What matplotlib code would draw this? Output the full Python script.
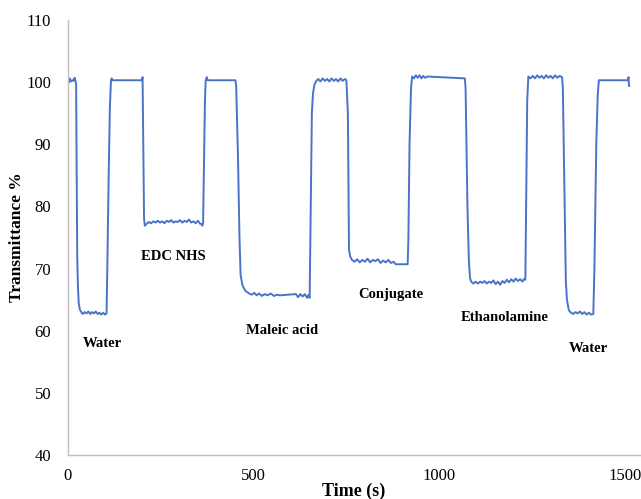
import matplotlib.pyplot as plt

# time (s) and transmittance (%)
time_s = [
    0, 3, 5, 8, 12, 15, 18, 20, 22, 24, 25, 27, 29, 32, 36,
    40, 45, 50, 55, 60, 65, 70, 75, 80, 85, 90, 95, 100, 104,
    106, 110, 113, 116, 118, 120, 199, 201, 203, 205, 207,
    212, 218, 224, 230, 236, 242, 248, 254, 260, 266, 272, 278, 284, 290,
    296, 302, 308, 314, 320, 326, 332, 338, 344, 350, 356, 360, 362, 364,
    366, 369, 371, 374, 376, 451, 453, 458, 462, 465, 470, 478, 488,
    495, 502, 508, 515, 522, 530, 538, 546, 555, 563, 571, 614, 620, 626,
    632, 638, 644, 648, 651, 654, 657, 660, 664, 669,
    674, 680, 686, 692, 698, 704, 710, 716, 722, 728, 734, 740, 746, 750,
    752, 754, 757, 760, 765,
    772, 779, 786, 793, 800, 807, 814, 821, 828, 835, 842, 849, 856, 863,
    870, 877, 883, 915,
    917, 920, 924, 927, 932, 937, 942, 947, 952, 957, 962, 969, 1069,
    1071, 1076, 1080, 1083, 1086,
    1092, 1098, 1104, 1110, 1116, 1122, 1128, 1134, 1140, 1146, 1152, 1158,
    1164, 1170, 1176, 1182, 1188, 1194, 1200, 1206, 1212, 1218, 1224, 1228, 1232,
    1234, 1237, 1240, 1246, 1252, 1258, 1264, 1270, 1276, 1282, 1288, 1294,
    1300, 1306, 1312, 1318, 1324, 1331,
    1333, 1338, 1341, 1344, 1349, 1355,
    1361, 1367, 1373, 1379, 1385, 1391, 1397, 1403, 1409, 1415,
    1418, 1423, 1427, 1430, 1508, 1510, 1511, 1512,
]
transmittance = [
    100.3, 100.0, 100.6, 100.1, 100.3, 100.2, 100.7, 100.2, 99.8, 80.0, 72.0, 67.0, 64.5, 63.4, 63.0,
    62.7, 63.0, 62.8, 63.1, 62.7, 63.0, 62.8, 63.1, 62.7, 62.9, 62.6, 62.9, 62.6, 62.8,
    70.0, 86.0, 96.0, 100.4, 100.6, 100.3, 100.3, 100.8, 90.0, 78.0, 76.9,
    77.2, 77.5, 77.3, 77.6, 77.4, 77.7, 77.4, 77.6, 77.3, 77.7, 77.5, 77.8, 77.4, 77.6,
    77.5, 77.8, 77.4, 77.7, 77.5, 77.9, 77.4, 77.6, 77.3, 77.7, 77.2, 77.2, 76.9, 77.3,
    85.0, 97.0, 100.3, 100.8, 100.3, 100.3, 99.5, 88.0, 75.0, 69.0, 67.3, 66.4, 66.0,
    65.8, 66.1, 65.7, 66.0, 65.6, 65.9, 65.7, 66.0, 65.6, 65.8, 65.7, 65.9, 65.4, 65.9,
    65.5, 65.9, 65.3, 65.8, 65.3, 80.0, 95.0, 98.2, 99.6, 100.2,
    100.5, 100.1, 100.6, 100.2, 100.5, 100.1, 100.6, 100.2, 100.5, 100.1, 100.6, 100.2, 100.5, 100.3,
    97.5, 95.0, 73.0, 72.0, 71.4,
    71.1, 71.5, 71.0, 71.4, 71.1, 71.6, 71.0, 71.4, 71.2, 71.5, 70.9, 71.3, 71.0, 71.4,
    70.9, 71.1, 70.7, 70.7,
    75.0, 90.0, 99.0, 100.9, 100.6, 101.1, 100.7, 101.1, 100.6, 101.0, 100.7, 100.9, 100.6,
    99.0, 80.0, 71.0, 68.5, 67.9,
    67.6, 67.9, 67.6, 67.9, 67.7, 68.0, 67.6, 67.9, 67.7, 68.1, 67.5, 67.9,
    67.4, 68.0, 67.7, 68.2, 67.8, 68.3, 67.9, 68.4, 68.0, 68.3, 67.9, 68.3, 68.2,
    80.0, 97.0, 100.9, 100.6, 101.0, 100.6, 101.1, 100.7, 101.0, 100.6, 101.1, 100.7,
    101.0, 100.6, 101.1, 100.7, 101.0, 100.8,
    99.0, 80.0, 68.0, 65.0, 63.3, 62.9,
    62.7, 63.0, 62.8, 63.1, 62.7, 63.0, 62.6, 62.9, 62.6, 62.7,
    70.0, 90.0, 98.0, 100.3, 100.3, 100.8, 99.4, 99.4,
]

labels = ["Water", "EDC NHS", "Maleic acid", "Conjugate", "Ethanolamine", "Water"]
label_x = [40, 285, 576, 869, 1176, 1402]
label_y = [58.0, 71.9, 60.1, 65.9, 62.1, 57.2]
label_ha = ["left", "center", "center", "center", "center", "center"]

plt.rcParams["font.family"] = ["Liberation Serif", "DejaVu Serif"]

fig = plt.figure(figsize=(6.41, 4.99), dpi=100)
ax = fig.add_axes([0.106, 0.088, 0.892, 0.872])

ax.plot(time_s, transmittance, color="#4a74c9", linewidth=1.4)

for txt, x, y, ha in zip(labels, label_x, label_y, label_ha):
    ax.text(x, y, txt, ha=ha, va="center", fontsize=10.5, fontweight="bold")

ax.set_xlim(0, 1540)
ax.set_ylim(40, 110)
ax.set_xticks([0, 500, 1000, 1500])
ax.set_yticks(range(40, 111, 10))

for side in ["top", "right"]:
    ax.spines[side].set_visible(False)
for side in ["left", "bottom"]:
    ax.spines[side].set_color("#bfbfbf")
    ax.spines[side].set_linewidth(1.0)

ax.tick_params(axis="both", length=0, labelsize=12)
ax.tick_params(axis="y", pad=12)
ax.tick_params(axis="x", pad=9)

ax.set_xlabel("Time (s)", fontsize=13, fontweight="bold", labelpad=-1)
ax.set_ylabel("Transmittance %", fontsize=12.5, fontweight="bold", labelpad=1)

plt.savefig("out.png", dpi=100)
plt.close()
